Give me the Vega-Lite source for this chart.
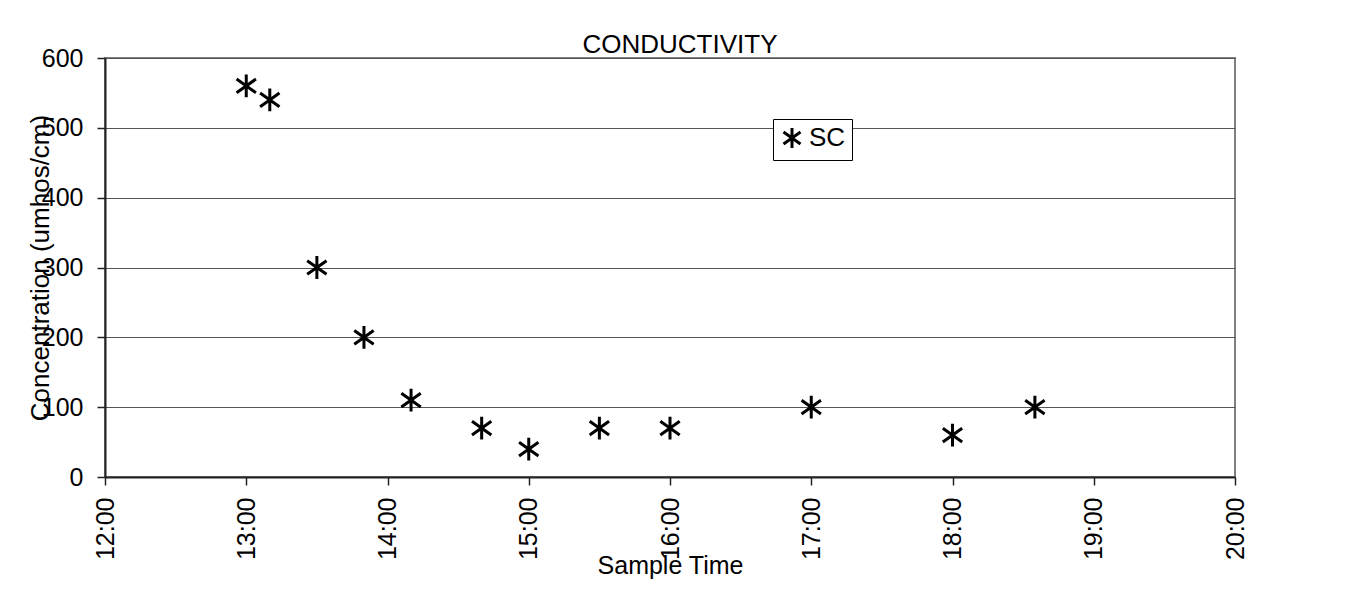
{
  "$schema": "https://vega.github.io/schema/vega-lite/v6.json",
  "width": 1130,
  "height": 419,
  "autosize": {"type": "none"},
  "padding": {"left": 105, "top": 58, "right": 120, "bottom": 117},
  "background": "white",
  "title": {
    "text": "CONDUCTIVITY",
    "font": "Liberation Sans",
    "fontSize": 26,
    "fontWeight": "normal",
    "color": "black",
    "anchor": "middle",
    "frame": "group",
    "offset": -12,
    "dx": 10
  },
  "data": {
    "values": [
      {"time": "13:00", "value": 560, "series": "SC"},
      {"time": "13:10", "value": 540, "series": "SC"},
      {"time": "13:30", "value": 300, "series": "SC"},
      {"time": "13:50", "value": 200, "series": "SC"},
      {"time": "14:10", "value": 110, "series": "SC"},
      {"time": "14:40", "value": 70, "series": "SC"},
      {"time": "15:00", "value": 40, "series": "SC"},
      {"time": "15:30", "value": 70, "series": "SC"},
      {"time": "16:00", "value": 70, "series": "SC"},
      {"time": "17:00", "value": 100, "series": "SC"},
      {"time": "18:00", "value": 60, "series": "SC"},
      {"time": "18:35", "value": 100, "series": "SC"}
    ],
    "format": {"parse": {"time": "utc:'%H:%M'"}}
  },
  "mark": {"type": "point", "filled": false, "stroke": "black", "strokeWidth": 3, "size": 520, "opacity": 1},
  "encoding": {
    "x": {
      "field": "time",
      "type": "temporal",
      "title": "Sample Time",
      "scale": {
        "type": "utc",
        "domain": [
          {"year": 1900, "month": 1, "date": 1, "hours": 12, "utc": true},
          {"year": 1900, "month": 1, "date": 1, "hours": 20, "utc": true}
        ]
      },
      "axis": {
        "values": [
          {"year": 1900, "month": 1, "date": 1, "hours": 12, "utc": true},
          {"year": 1900, "month": 1, "date": 1, "hours": 13, "utc": true},
          {"year": 1900, "month": 1, "date": 1, "hours": 14, "utc": true},
          {"year": 1900, "month": 1, "date": 1, "hours": 15, "utc": true},
          {"year": 1900, "month": 1, "date": 1, "hours": 16, "utc": true},
          {"year": 1900, "month": 1, "date": 1, "hours": 17, "utc": true},
          {"year": 1900, "month": 1, "date": 1, "hours": 18, "utc": true},
          {"year": 1900, "month": 1, "date": 1, "hours": 19, "utc": true},
          {"year": 1900, "month": 1, "date": 1, "hours": 20, "utc": true}
        ],
        "labelExpr": "utcFormat(datum.value, '%H:%M')",
        "labelAngle": -90,
        "labelAlign": "right",
        "labelBaseline": "middle",
        "labelPadding": 12,
        "labelFlush": false,
        "labelOverlap": false,
        "grid": false,
        "tickSize": 8,
        "titlePadding": -6
      }
    },
    "y": {
      "field": "value",
      "type": "quantitative",
      "title": "Concentration (umhos/cm)",
      "scale": {"domain": [0, 600], "nice": false},
      "axis": {
        "values": [0, 100, 200, 300, 400, 500, 600],
        "labelPadding": 14,
        "tickSize": 8,
        "grid": true,
        "titleFontSize": 26,
        "titlePadding": -12
      }
    },
    "shape": {
      "field": "series",
      "type": "nominal",
      "scale": {"range": ["M0,-1L0,1M-0.85,-0.6L0.85,0.6M-0.85,0.6L0.85,-0.6"]},
      "legend": {
        "title": null,
        "orient": "none",
        "legendX": 668,
        "legendY": 61,
        "strokeColor": "black",
        "fillColor": "white",
        "padding": 6,
        "labelFont": "Liberation Sans",
        "labelFontSize": 26,
        "labelColor": "black",
        "symbolSize": 400,
        "symbolStrokeColor": "black",
        "symbolStrokeWidth": 3,
        "symbolFillColor": "transparent",
        "symbolType": "M0,-1L0,1M-0.85,-0.6L0.85,0.6M-0.85,0.6L0.85,-0.6",
        "labelOffset": 4,
        "cornerRadius": 0
      }
    }
  },
  "config": {
    "view": {"stroke": "#808080", "strokeWidth": 2},
    "axis": {
      "labelFont": "Liberation Sans",
      "labelFontSize": 25,
      "labelColor": "black",
      "titleFont": "Liberation Sans",
      "titleFontSize": 25,
      "titleFontWeight": "normal",
      "titleColor": "black",
      "domainColor": "#222",
      "domainWidth": 2,
      "tickColor": "#222",
      "tickWidth": 1.5,
      "gridColor": "#555",
      "gridWidth": 1,
      "gridOpacity": 1
    }
  }
}
